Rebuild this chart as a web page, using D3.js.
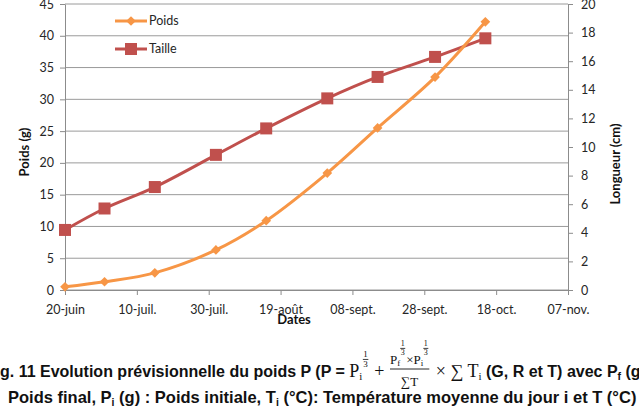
<!DOCTYPE html>
<html>
<head>
<meta charset="utf-8">
<script src="https://cdn.jsdelivr.net/npm/d3@7"></script>
<style>
  body { margin: 0; background: #fff; }
  svg { display: block; }
  svg text { white-space: pre; }
  .axis text { font-family: Lato, "Open Sans", sans-serif; font-size: 12.5px; fill: #262626; }
  .axis path, .axis line { stroke: #8c8c8c; }
  .grid line { stroke: #9a9a9a; }
  .title { font-family: Lato, "Open Sans", sans-serif; font-size: 13px; font-weight: bold; fill: #111; }
</style>
</head>
<body>
<div id="chart"></div>
<script>
// dates of the measures, weight (g) and size (cm)
var dates = ["2011-06-20", "2011-07-01", "2011-07-15", "2011-08-01", "2011-08-15",
             "2011-09-01", "2011-09-15", "2011-10-01", "2011-10-15"];
var poids = [0.5, 1.3, 2.7, 6.3, 10.9, 18.4, 25.5, 33.5, 42.2];
var taille = [4.2, 5.7, 7.2, 9.45, 11.3, 13.4, 14.9, 16.3, 17.6];

var xTickDates = ["2011-06-20", "2011-07-10", "2011-07-30", "2011-08-19", "2011-09-08",
                  "2011-09-28", "2011-10-18", "2011-11-07"];
var xTickLabels = ["20-juin", "10-juil.", "30-juil.", "19-août", "08-sept.", "28-sept.", "18-oct.", "07-nov."];
var leftTicks = [0, 5, 10, 15, 20, 25, 30, 35, 40, 45];
var rightTicks = [0, 2, 4, 6, 8, 10, 12, 14, 16, 18, 20];

var parse = d3.timeParse("%Y-%m-%d");

let margin = {top: 4, right: 71, bottom: 117, left: 65},
    width = 639 - margin.left - margin.right,
    height = 407 - margin.top - margin.bottom;

let svg = d3.select("#chart").append("svg")
    .attr("width", 639)
    .attr("height", 407);

let g = svg.append("g")
    .attr("transform", "translate(" + margin.left + "," + margin.top + ")");

let x = d3.scaleTime()
    .domain([parse(xTickDates[0]), parse(xTickDates[xTickDates.length - 1])])
    .range([0, width]);

let yL = d3.scaleLinear().domain([0, 45]).range([height, 0]);
let yR = d3.scaleLinear().domain([0, 20]).range([height, 0]);

// gridlines
g.append("g")
    .attr("class", "grid")
    .selectAll("line")
    .data(leftTicks)
    .enter().append("line")
    .attr("x1", 0)
    .attr("x2", width)
    .attr("y1", d => yL(d))
    .attr("y2", d => yL(d));

// axes
g.append("g")
    .attr("class", "axis")
    .call(d3.axisLeft(yL).tickValues(leftTicks).tickSize(5).tickPadding(6).tickSizeOuter(0));

g.append("g")
    .attr("class", "axis")
    .attr("transform", "translate(" + width + ",0)")
    .call(d3.axisRight(yR).tickValues(rightTicks).tickSize(5).tickPadding(8).tickSizeOuter(0));

g.append("g")
    .attr("class", "axis")
    .attr("transform", "translate(0," + height + ")")
    .call(d3.axisBottom(x)
        .tickValues(xTickDates.map(parse))
        .tickFormat((d, i) => xTickLabels[i])
        .tickSize(5).tickPadding(10).tickSizeOuter(0));

g.selectAll(".axis .domain").attr("stroke", "#8c8c8c");

// lines
let rows = dates.map((d, i) => ({date: parse(d), poids: poids[i], taille: taille[i]}));

let lineP = d3.line().x(d => x(d.date)).y(d => yL(d.poids)).curve(d3.curveCatmullRom.alpha(0.5));
let lineT = d3.line().x(d => x(d.date)).y(d => yR(d.taille)).curve(d3.curveCatmullRom.alpha(0.5));

g.append("path").datum(rows)
    .attr("d", lineT).attr("fill", "none")
    .attr("stroke", "#C0504D").attr("stroke-width", 3);

g.append("path").datum(rows)
    .attr("d", lineP).attr("fill", "none")
    .attr("stroke", "#F79646").attr("stroke-width", 3);

let diamond = d3.symbol().type(d3.symbolDiamond2).size(60);

g.selectAll(".sq").data(rows).enter().append("rect")
    .attr("class", "sq")
    .attr("x", d => x(d.date) - 6)
    .attr("y", d => yR(d.taille) - 6)
    .attr("width", 12).attr("height", 12)
    .attr("fill", "#C0504D");

g.selectAll(".dm").data(rows).enter().append("path")
    .attr("class", "dm")
    .attr("d", diamond)
    .attr("transform", d => "translate(" + x(d.date) + "," + yL(d.poids) + ")")
    .attr("fill", "#F79646");

// legend
let legend = svg.append("g").attr("transform", "translate(115,0)");
legend.append("line").attr("x1", 0).attr("x2", 32).attr("y1", 21).attr("y2", 21)
    .attr("stroke", "#F79646").attr("stroke-width", 3);
legend.append("path").attr("d", diamond).attr("transform", "translate(16,21)").attr("fill", "#F79646");
legend.append("text").attr("x", 34).attr("y", 25)
    .style("font-family", "Lato, sans-serif").style("font-size", "12.5px").attr("fill", "#262626").text("Poids");
legend.append("line").attr("x1", 0).attr("x2", 32).attr("y1", 49).attr("y2", 49)
    .attr("stroke", "#C0504D").attr("stroke-width", 3);
legend.append("rect").attr("x", 10).attr("y", 43).attr("width", 12).attr("height", 12).attr("fill", "#C0504D");
legend.append("text").attr("x", 34).attr("y", 53)
    .style("font-family", "Lato, sans-serif").style("font-size", "12.5px").attr("fill", "#262626").text("Taille");

// axis titles
svg.append("text").attr("class", "title")
    .attr("transform", "translate(29,152) rotate(-90)")
    .style("text-anchor", "middle").text("Poids (g)");
svg.append("text").attr("class", "title")
    .attr("transform", "translate(620,164) rotate(-90)")
    .style("text-anchor", "middle").text("Longueur (cm)");
svg.append("text").attr("class", "title")
    .attr("x", 294).attr("y", 324)
    .style("text-anchor", "middle").text("Dates");

// caption with the formula
var SANS = "'Liberation Sans Narrow', 'Arial Narrow', 'Liberation Sans', sans-serif";
var SERIF = "'Liberation Serif', 'DejaVu Serif', serif";
var CAP1 = 16, CAP2 = 16.5;

function piece(parent, px, py, str, family, size, bold) {
    let t = parent.append("text")
        .attr("x", px).attr("y", py)
        .style("font-family", family)
        .style("font-size", size + "px")
        .style("font-weight", bold ? "bold" : "normal")
        .attr("fill", "#111")
        .text(str);
    return t.node().getComputedTextLength();
}

// small stacked 1/3 exponent, returns its width
function third(parent, px, yTop, size) {
    let w = piece(parent, px, yTop + size * 0.8, "1", SERIF, size, false);
    piece(parent, px, yTop + size * 1.9, "3", SERIF, size, false);
    parent.append("line")
        .attr("x1", px - 0.5).attr("x2", px + w + 0.5)
        .attr("y1", yTop + size * 1.05).attr("y2", yTop + size * 1.05)
        .attr("stroke", "#111").attr("stroke-width", 0.8);
    return w + 1;
}

let cap = svg.append("g");
let base1 = 377, base2 = 403;

let probe = cap.append("text").style("font-family", SANS).style("font-size", CAP1 + "px")
    .style("font-weight", "bold").text("Fi");
let cx = -probe.node().getComputedTextLength();
probe.remove();

cx += piece(cap, cx, base1, "Fig. 11 Evolution prévisionnelle du poids P (P = ", SANS, CAP1, true);
cx += piece(cap, cx, base1, "P", SERIF, 18, false);
cx += piece(cap, cx, base1 + 3, "i", SERIF, 11, false);
cx += third(cap, cx + 1, 350, 9) + 2;
cx += piece(cap, cx, base1, " + ", SERIF, 18, false);

// fraction
let fx = cx + 1;
let num = cap.append("g");
let nx = fx;
nx += piece(num, nx, 364, "P", SERIF, 13, false);
nx += piece(num, nx, 366, "f", SERIF, 9, false);
nx += third(num, nx + 0.5, 340, 8) + 1;
nx += piece(num, nx, 364, "×", SERIF, 13, false);
nx += piece(num, nx, 364, "P", SERIF, 13, false);
nx += piece(num, nx, 366, "i", SERIF, 9, false);
nx += third(num, nx + 0.5, 340, 8) + 1;
let fw = nx - fx;
cap.append("line").attr("x1", fx).attr("x2", fx + fw).attr("y1", 369).attr("y2", 369)
    .attr("stroke", "#111").attr("stroke-width", 0.9);
cap.append("text").attr("x", fx + fw / 2).attr("y", 386)
    .style("font-family", SERIF).style("font-size", "13px").style("text-anchor", "middle")
    .attr("fill", "#111").text("∑T");
cx = fx + fw + 2;

cx += piece(cap, cx, base1, " × ∑ T", SERIF, 18, false);
cx += piece(cap, cx, base1 + 3, "i", SERIF, 11, false);
cx += piece(cap, cx, base1, " (G, R et T) avec P", SANS, CAP1, true);
cx += piece(cap, cx, base1 + 3, "f", SANS, 10.5, true);
cx += piece(cap, cx, base1, " (g) :", SANS, CAP1, true);

let lx = 8;
lx += piece(cap, lx, base2, "Poids final, P", SANS, CAP2, true);
lx += piece(cap, lx, base2 + 3, "i", SANS, 10.5, true);
lx += piece(cap, lx, base2, " (g) : Poids initiale, T", SANS, CAP2, true);
lx += piece(cap, lx, base2 + 3, "i", SANS, 10.5, true);
lx += piece(cap, lx, base2, " (°C): Température moyenne du jour i et T (°C)", SANS, CAP2, true);
</script>
</body>
</html>
